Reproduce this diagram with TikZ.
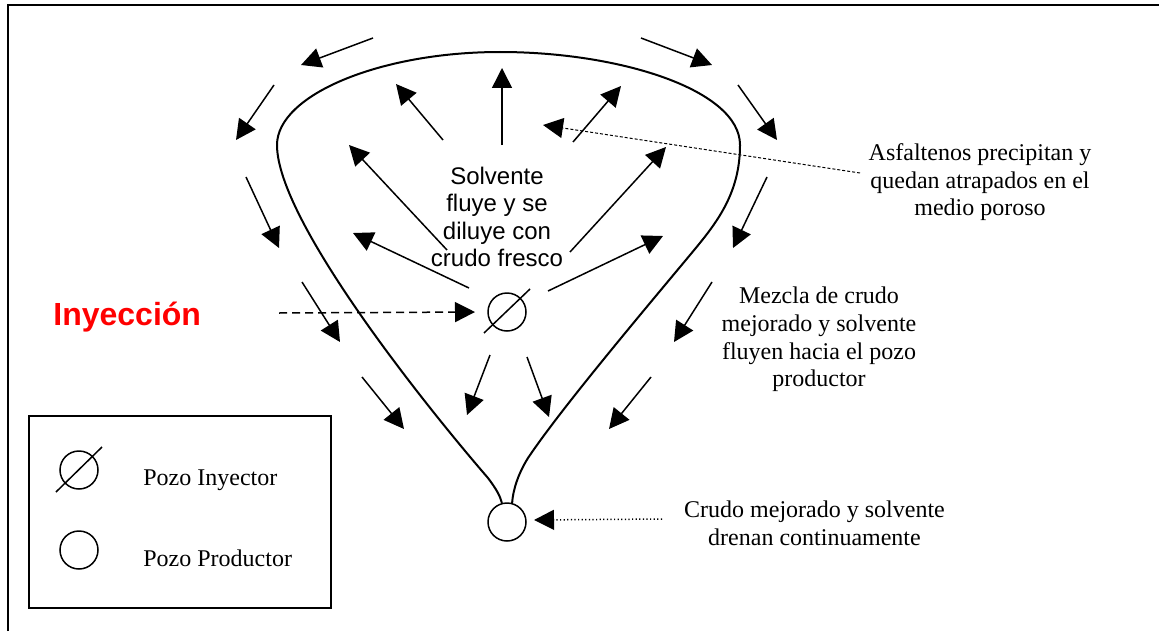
\documentclass[tikz,border=0pt]{standalone}
\usepackage{fontspec}
\setmainfont{Liberation Serif}
\newfontfamily\arialfont{Liberation Sans}
\usetikzlibrary{arrows.meta}

\begin{document}
\begin{tikzpicture}[x=0.5pt,y=-0.5pt,
  tip/.style={-{Triangle[length=10pt,width=10pt]}},
  flow/.style={tip,line width=0.75pt},
  outline/.style={line width=1pt},
  well/.style={circle,draw,line width=0.75pt,minimum size=19pt,inner sep=0pt},
  note/.style={font=\fontsize{12}{13.8}\selectfont,align=center,inner sep=0pt},
  sansnote/.style={font=\arialfont\fontsize{12}{13.8}\selectfont,align=center,inner sep=0pt},
  legendtext/.style={font=\fontsize{12}{13.8}\selectfont,inner sep=0pt,anchor=base west}]
\useasboundingbox (0,0) rectangle (1159,631);

% page frame (top and left edges)
\draw[line width=1pt] (8,631) -- (8,5.5) -- (1159,5.5);

% wells
\node[well] (inj) at (507,312) {};
\draw[line width=0.75pt] ([shift={(-23,21)}]inj.center) -- ([shift={(23,-23)}]inj.center);
\node[well] (prod) at (507,522) {};

% swept zone boundary
\draw[outline] (prod.105) .. controls (500,496) and (497,490) .. (488,478)
  .. controls (424,404) and (277,220) .. (277,145)
  .. controls (277,95) and (380,52) .. (500,52)
  .. controls (620,52) and (740,90) .. (740,145)
  .. controls (740,195) and (715,225) .. (690,255)
  .. controls (640,315) and (560,410) .. (528,458)
  .. controls (518,474) and (513,490) .. (prod.75);

% flow arrows inside and outside the chamber
\foreach \n/\ax/\ay/\bx/\by in {
  1/502/145/502/68, 2/443/140/396/84, 3/573/142/621/86,
  4/447/250/349/145, 5/469/288/353/233, 6/570/252/666/147,
  7/548/291/663/236, 8/490/355/467/415, 9/527/357/549/417,
  10/373/38/301/65, 11/274/85/236/140, 12/246/177/279/248,
  13/302/282/340/342, 14/362/377/404/429,
  15/641/38/712/65, 16/738/85/777/140, 17/767/177/733/248,
  18/712/282/674/342, 19/651/377/609/429}{
  \coordinate (t\n) at (\ax,\ay);
  \coordinate (h\n) at (\bx,\by);
  \draw[flow] (t\n) -- (h\n);
}

% labels
\node[sansnote] (solv) at (497,217) {Solvente\\fluye y se\\diluye con\\crudo fresco};
\node[font=\arialfont\bfseries\fontsize{16}{18}\selectfont,text=red,inner sep=0pt,anchor=base west] (iny) at (53,325) {Inyección};
\node[note] (asf) at (980,182.5) {Asfaltenos precipitan y\\quedan atrapados en el\\medio poroso};
\node[note] (mez) at (819,339.5) {Mezcla de crudo\\mejorado y solvente\\fluyen hacia el pozo\\productor};
\node[note] (dren) at (814.5,523) {Crudo mejorado y solvente\\drenan continuamente};

% callouts
\coordinate (injtail) at (279,313);
\coordinate (injhead) at (475,312);
\draw[tip,line width=0.75pt,dash pattern=on 4pt off 2.5pt] (injtail) -- (injhead);
\coordinate (asftail) at (860,173);
\coordinate (asfhead) at (543,125);
\draw[tip,line width=0.5pt,dash pattern=on 1.5pt off 1pt] (asftail) -- (asfhead);
\coordinate (drentail) at (662,519);
\coordinate (drenhead) at (534,520);
\draw[tip,line width=0.75pt,dash pattern=on 0.6pt off 1.2pt] (drentail) -- (drenhead);

% legend
\node[draw,line width=1pt,minimum width=151pt,minimum height=96pt,inner sep=0pt] (legend) at (180,512) {};
\node[well] (linj) at (79,470) {};
\draw[line width=0.75pt] ([shift={(-23,22)}]linj.center) -- ([shift={(23,-23)}]linj.center);
\node[well] (lprod) at (79,550) {};
\node[legendtext] (linjt) at (143,485) {Pozo Inyector};
\node[legendtext] (lprodt) at (143,566) {Pozo Productor};
\end{tikzpicture}
\end{document}
